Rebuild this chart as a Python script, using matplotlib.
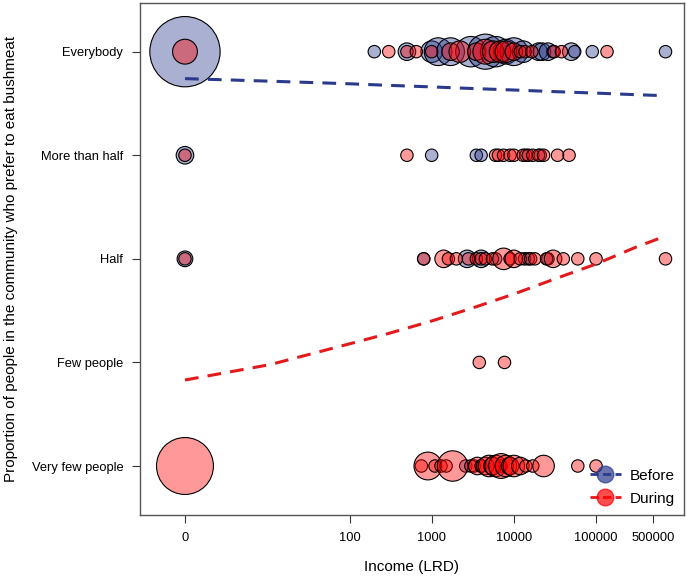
import numpy as np
import matplotlib
matplotlib.use("Agg")
import matplotlib.pyplot as plt
from matplotlib.lines import Line2D

plt.rcParams['font.family'] = ['Liberation Sans', 'DejaVu Sans']

levels = ["Very few people", "Few people", "Half", "More than half", "Everybody"]
x_ticks = [0, 100, 1000, 10000, 100000, 500000]
x_tick_labels = ["0", "100", "1000", "10000", "100000", "500000"]

# Before: income, level (1..5), number of respondents
before_income = [0, 200, 500, 1000, 1200, 1700, 3000, 4500, 6000, 8000, 10000, 13000,
                 20000, 22000, 26000, 30000, 50000, 55000, 90000, 700000,
                 0, 1000, 3500, 4000, 14000, 21000,
                 0, 800, 2700, 4000, 6000, 13500, 15000, 26000,
                 2600, 7000]
before_level = [5] * 20 + [4] * 6 + [3] * 8 + [1] * 2
before_n = [32, 1, 2, 3, 5, 5, 6, 8, 6, 4, 5, 3,
            2, 2, 2, 1, 2, 1, 1, 1,
            2, 1, 1, 1, 1, 1,
            1.6, 1, 2, 2, 1, 1, 1, 1,
            1, 1]

# During: income, level (1..5), number of respondents
during_income = [0, 300, 500, 650, 1000, 1700, 2200, 3500, 4500, 5600, 6800, 8000,
                 10000, 12000, 13700, 16600, 31000, 38000, 136000,
                 0, 500, 6000, 6500, 7500, 9000, 10000, 13000, 15000, 17000, 20000,
                 23000, 34000, 47000,
                 0, 800, 1400, 1600, 2000, 2800, 3500, 4000, 4500, 5500, 7500, 9000,
                 10000, 12000, 16000, 18000, 25000, 30000, 40000, 60000, 100000, 700000,
                 3800, 7700,
                 0, 750, 900, 1100, 1300, 1500, 1800, 3000, 3300, 3600, 4000, 4500,
                 5000, 5500, 6000, 7000, 8000, 9000, 10000, 12000, 14000, 17000, 23000,
                 60000, 100000]
during_level = [5] * 19 + [4] * 14 + [3] * 22 + [2] * 2 + [1] * 25
during_n = [4, 1, 1, 1, 1, 2, 3, 2, 4, 3, 3, 3,
            2, 1, 1, 1, 1, 1, 1,
            1, 1, 1, 1, 1, 1, 1, 1, 1, 1, 1,
            1, 1, 1,
            1, 1, 2, 1, 1, 1, 1, 1, 1, 1, 3, 1,
            2, 1, 1, 1, 1, 2, 1, 1, 1, 1,
            1, 1,
            21, 1, 5, 1, 1, 1, 6, 1, 1, 2, 1, 2,
            3, 2, 3, 4, 3, 2, 3, 2, 1, 1, 3,
            1, 1]

# Fitted trend lines
fit_income = [0, 10, 100, 300, 1000, 3000, 10000, 30000, 100000, 300000, 700000]
before_fit = [4.74, 4.715, 4.69, 4.675, 4.66, 4.645, 4.63, 4.615, 4.60, 4.585, 4.575]
during_fit = [1.83, 1.98, 2.18, 2.28, 2.40, 2.52, 2.66, 2.80, 2.95, 3.11, 3.22]

blue_fill = (43/255, 58/255, 140/255, 0.4)
red_fill = (1.0, 0.0, 0.0, 0.4)
blue_line = "#2B3A8C"
red_line = "#E31A1C"


def tx(v):
    return np.log10(np.asarray(v, dtype=float) + 1)


fig = plt.figure(figsize=(6.88, 5.80), dpi=100)
ax = fig.add_axes([140/688, 65/580, 544/688, 512/580])

base = 80
ax.scatter(tx(before_income), before_level, s=np.array(before_n) * base,
           facecolors=[blue_fill], edgecolors="black", linewidths=0.8, zorder=2)
ax.scatter(tx(during_income), during_level, s=np.array(during_n) * base,
           facecolors=[red_fill], edgecolors="black", linewidths=0.8, zorder=3)

ax.plot(tx(fit_income), before_fit, color=blue_line, lw=2.2, ls=(0, (4.5, 3)), zorder=4)
ax.plot(tx(fit_income), during_fit, color=red_line, lw=2.2, ls=(0, (4.5, 3)), zorder=4)

ax.set_xlim(-0.547, 6.07)
ax.set_ylim(0.527, 5.47)
ax.set_xticks(tx(x_ticks))
ax.set_xticklabels(x_tick_labels, fontsize=9.3)
ax.set_yticks(range(1, 6))
ax.set_yticklabels(levels, fontsize=9.3)
ax.tick_params(axis='both', direction='out', length=6, width=0.8, color="#333333", pad=6)
for sp in ax.spines.values():
    sp.set_color("#555555")
    sp.set_linewidth(1.0)

ax.set_xlabel("Income (LRD)", fontsize=11, labelpad=12)
ax.set_ylabel("Proportion of people in the community who prefer to eat bushmeat",
              fontsize=11, labelpad=10)

handles = [
    Line2D([0], [0], color=blue_line, lw=2, ls=(0, (3, 1.5)), marker='o', markersize=12,
           markerfacecolor=(43/255, 58/255, 140/255, 0.7), markeredgecolor=(43/255, 58/255, 140/255, 0.7)),
    Line2D([0], [0], color=red_line, lw=2, ls=(0, (3, 1.5)), marker='o', markersize=12,
           markerfacecolor=(1, 0, 0, 0.7), markeredgecolor=(1, 0, 0, 0.7)),
]
ax.legend(handles, ["Before", "During"], loc="lower right", frameon=False, fontsize=11,
          handlelength=2.0, handletextpad=0.6, borderaxespad=0.2, labelspacing=0.6)

fig.savefig("out.png", dpi=100)
